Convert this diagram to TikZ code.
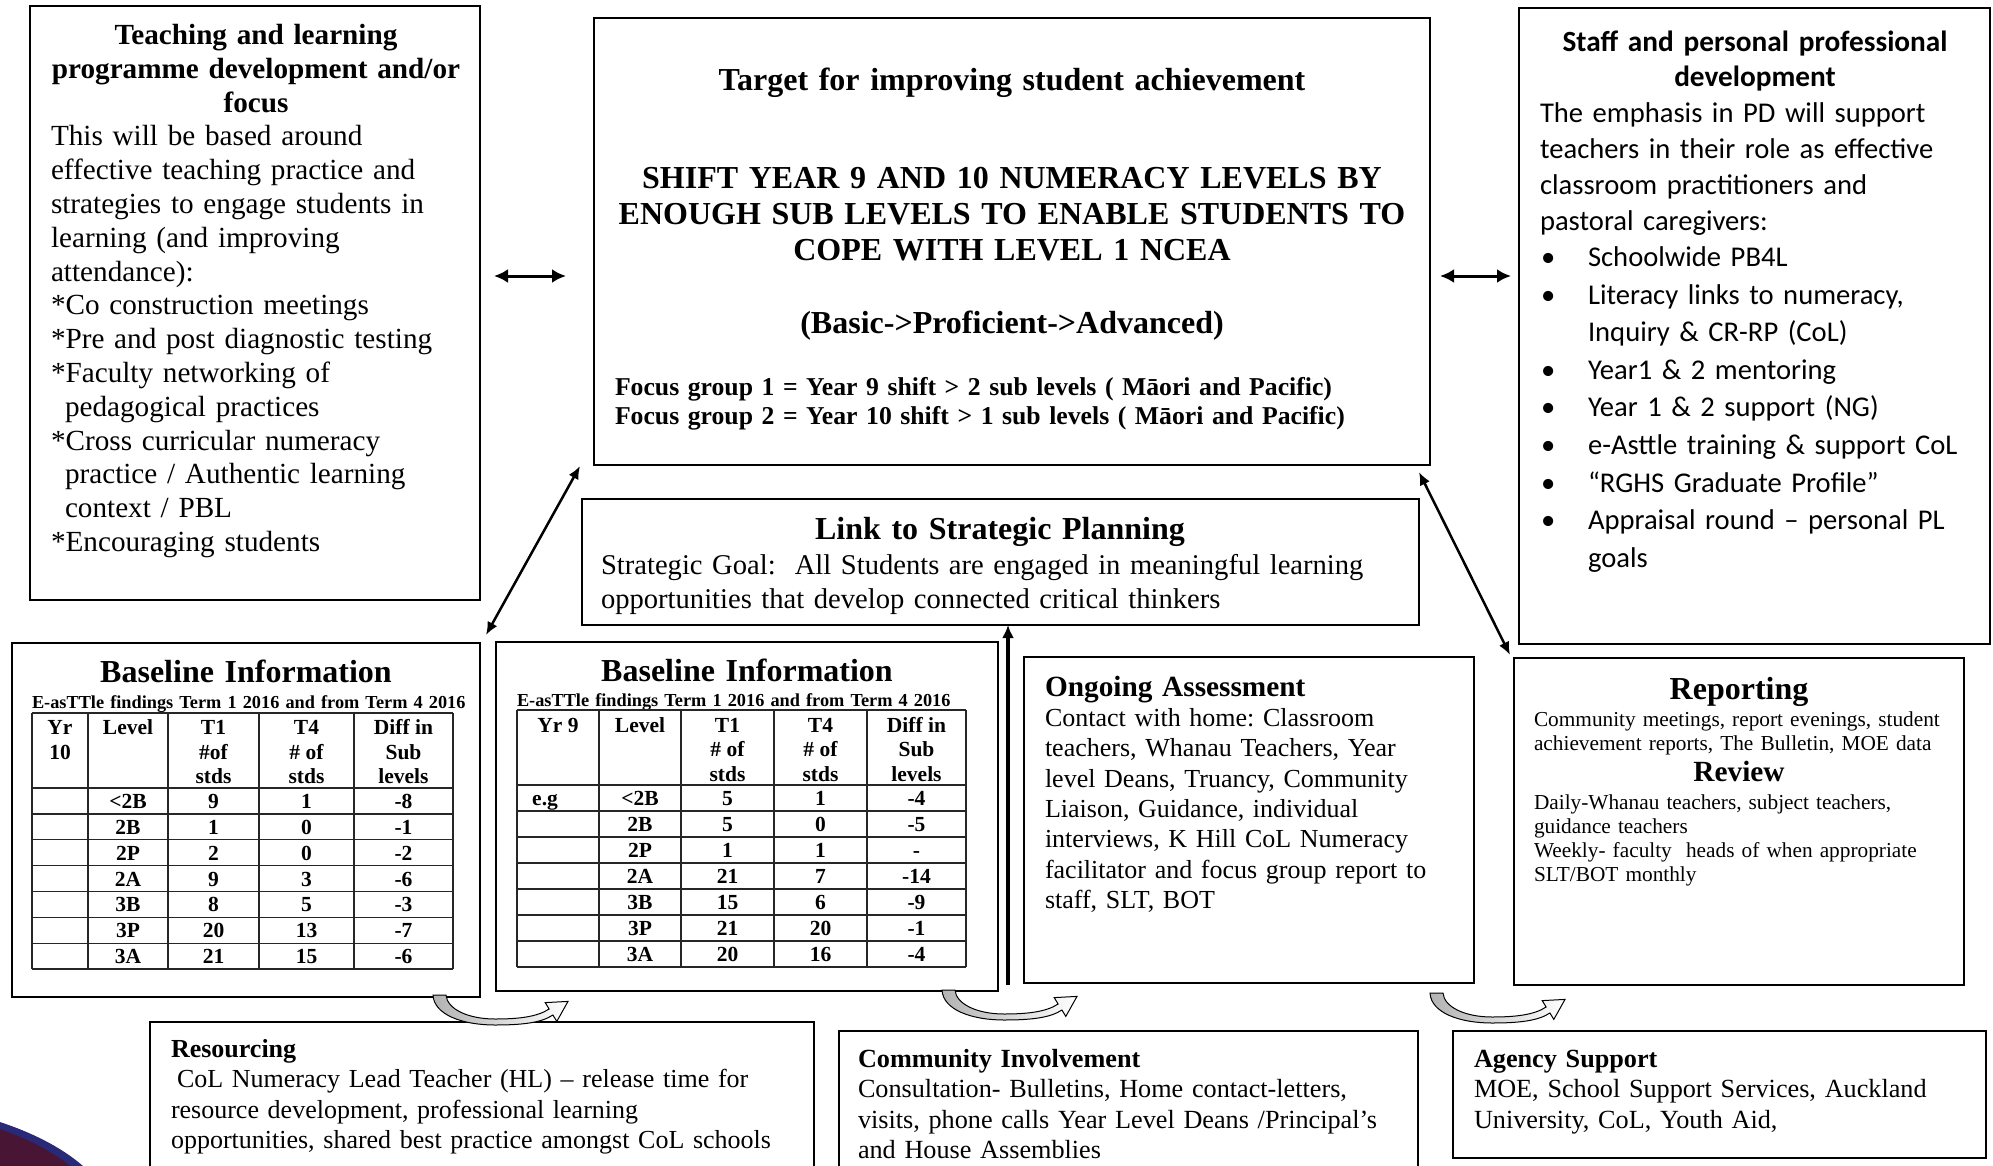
\documentclass[tikz,border=0pt]{standalone}
\usepackage{fontspec}
\setmainfont{Liberation Serif}
\newfontfamily\calfont{Carlito}
\usetikzlibrary{arrows.meta}
\newcommand\fsz[2]{\fontsize{#1pt}{#2pt}\selectfont}
\definecolor{swblue}{RGB}{40,42,120}
\definecolor{swmaroon}{RGB}{72,22,52}
\begin{document}
\frenchspacing
\begin{tikzpicture}[x=1pt,y=-1pt,
 box/.style={draw=black,line width=1.6pt,inner sep=0pt,outer sep=0pt,anchor=north west},
 tl/.style={inner sep=0pt,outer sep=0pt,anchor=north west,align=left},
 tc/.style={inner sep=0pt,outer sep=0pt,anchor=north,align=center},
 dbl/.style={line width=3pt,{Latex[length=14pt,width=14pt]}-{Latex[length=14pt,width=14pt]}},
 dgl/.style={line width=2.5pt,{Latex[length=13pt,width=11pt]}-{Latex[length=13pt,width=11pt]}},
 vup/.style={line width=3.5pt,-{Latex[length=13pt,width=12pt]}},
 tblline/.style={line width=1.3pt,draw=black!85},
 hd/.style={inner sep=0pt,anchor=north,align=center,font=\bfseries\fsz{21.5}{24.5}},
 cell/.style={inner sep=0pt,anchor=base,font=\bfseries\fsz{21.5}{24.5}},
 curvarr/.pic={
  \draw[line width=1pt,left color=gray!60,right color=white]
   (0,0) .. controls (1,20) and (30,30) .. (62,30)
   .. controls (88,30) and (108,28) .. (119.9,20)
   -- (123.8,26.4) -- (135,6.4) -- (112.2,7.6) -- (116.1,14)
   .. controls (104,22) and (85,24) .. (62,24)
   .. controls (35,24) and (14,14) .. (13,0) -- cycle;
 }
]
\useasboundingbox (0,0) rectangle (1993,1166);

% decoration bottom-left
\fill[swblue] (0,1122) .. controls (30,1132) and (60,1146) .. (83,1166) -- (0,1166) -- cycle;
\fill[swmaroon] (0,1129) .. controls (28,1139) and (52,1151) .. (70,1166) -- (0,1166) -- cycle;

% boxes
\node[box,minimum width=450pt,minimum height=594pt] (teach) at (30,6) {};
\node[box,minimum width=836pt,minimum height=447pt] (target) at (594,18) {};
\node[box,minimum width=471pt,minimum height=636pt] (staff) at (1519,8) {};
\node[box,minimum width=837pt,minimum height=126pt] (link) at (582,499) {};
\node[box,minimum width=468pt,minimum height=354pt] (base1) at (12,643) {};
\node[box,minimum width=502pt,minimum height=349pt] (base2) at (496,642) {};
\node[box,minimum width=450pt,minimum height=326pt] (ongoing) at (1024,657) {};
\node[box,minimum width=450pt,minimum height=327pt] (report) at (1514,658) {};
\node[box,minimum width=664pt,minimum height=170pt] (resource) at (150,1022) {};
\node[box,minimum width=579pt,minimum height=160pt] (community) at (839,1031) {};
\node[box,minimum width=533pt,minimum height=127pt] (agency) at (1453,1031) {};

% Teaching box text
\node[tc,text width=440pt,font=\bfseries\fsz{29.2}{33.8}] (teachT) at (256,21.3)
 {\strut Teaching and learning\\programme development and/or\\focus};
\node[tl,text width=420pt,font=\fsz{29.2}{33.8}] (teachB) at (51,122.3)
 {\strut This will be based around\\
 effective teaching practice and\\
 strategies to engage students in\\
 learning (and improving\\
 attendance):\\
 {*}Co construction meetings\\
 {*}Pre and post diagnostic testing\\
 {*}Faculty networking of\\
 \hspace*{14pt}pedagogical practices\\
 {*}Cross curricular numeracy\\
 \hspace*{14pt}practice / Authentic learning\\
 \hspace*{14pt}context / PBL\\
 {*}Encouraging students};

% Target box text
\node[tc,text width=800pt,font=\bfseries\fsz{32}{36.8}] (tgtT) at (1012,64.4)
 {\strut Target for improving student achievement};
\node[tc,text width=820pt,font=\bfseries\fsz{32}{36}] (tgtS) at (1012,163.4)
 {\strut SHIFT YEAR 9 AND 10 NUMERACY LEVELS BY\\
 ENOUGH SUB LEVELS TO ENABLE STUDENTS TO\\
 COPE WITH LEVEL 1 NCEA};
\node[tc,text width=800pt,font=\bfseries\fsz{32}{36.8}] (tgtB) at (1012,307.6)
 {\strut (Basic->Proficient->Advanced)};
\node[tl,text width=800pt,font=\bfseries\fsz{25.7}{29.5}] (tgtF) at (615,374.4)
 {\strut Focus group 1 = Year 9 shift > 2 sub levels ( Māori and Pacific)\\
 Focus group 2 = Year 10 shift > 1 sub levels ( Māori and Pacific)};

% Staff box text
\node[tc,text width=460pt,font=\calfont\bfseries\fsz{29.3}{35.5}] (staffT) at (1755,26.2)
 {\strut Staff and personal professional\\development};
\node[tl,text width=440pt,font=\calfont\fsz{28.6}{36}] (staffB) at (1540,97.2)
 {\strut The emphasis in PD will support\\
 teachers in their role as effective\\
 classroom practitioners and\\
 pastoral caregivers:};
\node[tl,text width=445pt,font=\calfont\fsz{28.6}{37.6}] (staffL) at (1541,240.1)
 {\strut\makebox[47pt][l]{•}Schoolwide PB4L\\
 \makebox[47pt][l]{•}Literacy links to numeracy,\\
 \hspace*{47pt}Inquiry \& CR-RP (CoL)\\
 \makebox[47pt][l]{•}Year1 \& 2 mentoring\\
 \makebox[47pt][l]{•}Year 1 \& 2 support (NG)\\
 \makebox[47pt][l]{•}e-Asttle training \& support CoL\\
 \makebox[47pt][l]{•}“RGHS Graduate Profile”\\
 \makebox[47pt][l]{•}Appraisal round – personal PL\\
 \hspace*{47pt}goals};

% Link box text
\node[tc,text width=800pt,font=\bfseries\fsz{32}{36.8}] (linkT) at (1000,514.2)
 {\strut Link to Strategic Planning};
\node[tl,text width=810pt,font=\fsz{28.6}{33.8}] (linkB) at (601,550.6)
 {\strut Strategic Goal:\ \ All Students are engaged in meaningful learning\\
 opportunities that develop connected critical thinkers};

% Baseline 1
\node[tc,text width=440pt,font=\bfseries\fsz{32}{36.8}] (b1T) at (246,657.2) {\strut Baseline Information};
\node[tl,text width=470pt,font=\bfseries\fsz{18.3}{22}] (b1S) at (32,692.6)
 {\strut E-asTTle findings Term 1 2016 and from Term 4 2016};
\foreach \xx in {32,88,168,259,354,453} \draw[tblline] (\xx,713) -- (\xx,969);
\foreach \yy in {713,788,813.86,839.71,865.57,891.43,917.29,943.14,969} \draw[tblline] (32,\yy) -- (453,\yy);
\node[hd] (ha1) at (60,717.4) {\strut Yr\\10};
\node[hd] (ha2) at (128,717.4) {\strut Level};
\node[hd] (ha3) at (213.5,717.4) {\strut T1\\\#of\\stds};
\node[hd] (ha4) at (306.5,717.4) {\strut T4\\\# of\\stds};
\node[hd] (ha5) at (403.5,717.4) {\strut Diff in\\Sub\\levels};
\foreach \lv/\ta/\tb/\td [count=\i] in {<2B/9/1/-8,2B/1/0/-1,2P/2/0/-2,2A/9/3/-6,3B/8/5/-3,3P/20/13/-7,3A/21/15/-6}{
 \node[cell] (ra-\i-l) at (128,{788+25.857*(\i-0.5)+7.5}) {\lv};
 \node[cell] (ra-\i-a) at (213.5,{788+25.857*(\i-0.5)+7.5}) {\ta};
 \node[cell] (ra-\i-b) at (306.5,{788+25.857*(\i-0.5)+7.5}) {\tb};
 \node[cell] (ra-\i-d) at (403.5,{788+25.857*(\i-0.5)+7.5}) {\td};
}

% Baseline 2
\node[tc,text width=480pt,font=\bfseries\fsz{32}{36.8}] (b2T) at (747,656.2) {\strut Baseline Information};
\node[tl,text width=480pt,font=\bfseries\fsz{18.3}{22}] (b2S) at (517,690.6)
 {\strut E-asTTle findings Term 1 2016 and from Term 4 2016};
\foreach \xx in {517,599,681,774,867,966} \draw[tblline] (\xx,710) -- (\xx,967);
\foreach \yy in {710,785,811,837,863,889,915,941,967} \draw[tblline] (517,\yy) -- (966,\yy);
\node[hd] (hb1) at (558,714.9) {\strut Yr 9};
\node[hd] (hb2) at (640,714.9) {\strut Level};
\node[hd] (hb3) at (727.5,714.9) {\strut T1\\\# of\\stds};
\node[hd] (hb4) at (820.5,714.9) {\strut T4\\\# of\\stds};
\node[hd] (hb5) at (916.5,714.9) {\strut Diff in\\Sub\\levels};
\node[cell,anchor=base west] (eg) at (532,{785+13+7.5}) {e.g};
\foreach \lv/\ta/\tb/\td [count=\i] in {<2B/5/1/-4,2B/5/0/-5,2P/1/1/-,2A/21/7/-14,3B/15/6/-9,3P/21/20/-1,3A/20/16/-4}{
 \node[cell] (rb-\i-l) at (640,{785+26*(\i-0.5)+7.5}) {\lv};
 \node[cell] (rb-\i-a) at (727.5,{785+26*(\i-0.5)+7.5}) {\ta};
 \node[cell] (rb-\i-b) at (820.5,{785+26*(\i-0.5)+7.5}) {\tb};
 \node[cell] (rb-\i-d) at (916.5,{785+26*(\i-0.5)+7.5}) {\td};
}

% Ongoing
\node[tl,text width=420pt,font=\bfseries\fsz{29.3}{33.7}] (ongT) at (1045,672.8) {\strut Ongoing Assessment};
\node[tl,text width=420pt,font=\fsz{26}{30.3}] (ongB) at (1045,705.3)
 {\strut Contact with home: Classroom\\
 teachers, Whanau Teachers, Year\\
 level Deans, Truancy, Community\\
 Liaison, Guidance, individual\\
 interviews, K Hill CoL Numeracy\\
 facilitator and focus group report to\\
 staff, SLT, BOT};

% Reporting
\node[tc,text width=420pt,font=\bfseries\fsz{32}{36.8}] (repT) at (1739,674.2) {\strut Reporting};
\node[tl,text width=420pt,font=\fsz{21.3}{24.3}] (repA) at (1534,709)
 {\strut Community meetings, report evenings, student\\
 achievement reports, The Bulletin, MOE data};
\node[tc,text width=420pt,font=\bfseries\fsz{29.3}{33.7}] (revT) at (1739,757.8) {\strut Review};
\node[tl,text width=420pt,font=\fsz{21.3}{24.3}] (revA) at (1534,792)
 {\strut Daily-Whanau teachers, subject teachers,\\
 guidance teachers\\
 Weekly- faculty\ \ heads of when appropriate\\
 SLT/BOT monthly};

% Bottom boxes
\node[tl,text width=640pt,font=\fsz{26}{30.5}] (resT) at (171,1036.1)
 {\strut\textbf{Resourcing}\\
 \hspace*{6pt}CoL Numeracy Lead Teacher (HL) – release time for\\
 resource development, professional learning\\
 opportunities, shared best practice amongst CoL schools};
\node[tl,text width=560pt,font=\fsz{26.2}{30.5}] (comT) at (858,1046.1)
 {\strut\textbf{Community Involvement}\\
 Consultation- Bulletins, Home contact-letters,\\
 visits, phone calls Year Level Deans /Principal’s\\
 and House Assemblies};
\node[tl,text width=500pt,font=\fsz{26.2}{30.5}] (agyT) at (1474,1046.1)
 {\strut\textbf{Agency Support}\\
 MOE, School Support Services, Auckland\\
 University, CoL, Youth Aid,};

% connectors
\coordinate (hl1) at (494,276);
\coordinate (hl2) at (566,276);
\coordinate (hr1) at (1440,276);
\coordinate (hr2) at (1511,276);
\draw[dbl] (hl1) -- (hl2);
\draw[dbl] (hr1) -- (hr2);
\coordinate (dl1) at (486,635);
\coordinate (dl2) at (580,466);
\coordinate (dr1) at (1419,472);
\coordinate (dr2) at (1510,655);
\draw[dgl] (dl1) -- (dl2);
\draw[dgl] (dr1) -- (dr2);
\coordinate (vbot) at (1008,985);
\draw[vup] (vbot) -- (vbot |- link.south);

% curved block arrows
\pic at (433,995) {curvarr};
\pic at (942,990) {curvarr};
\pic at (1430,993) {curvarr};
\end{tikzpicture}
\end{document}
